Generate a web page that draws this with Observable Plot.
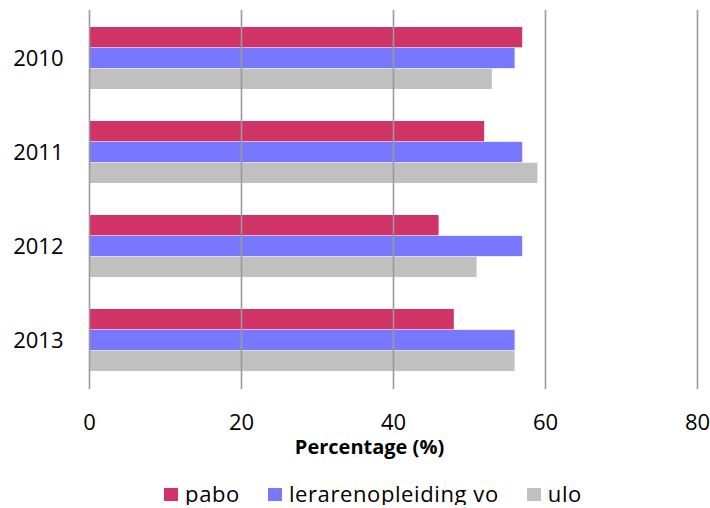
<!DOCTYPE html>
<html>
<head>
<meta charset="utf-8">
<script src="https://cdn.jsdelivr.net/npm/d3@7"></script>
<script src="https://cdn.jsdelivr.net/npm/@observablehq/plot@0.6"></script>
<style>
  body { margin: 0; background: #fff; font-family: "Open Sans", Lato, sans-serif; }
  #legend { display: flex; justify-content: center; gap: 28px; margin-top: 21px; margin-left: 36px; font-size: 22px; letter-spacing: 0.6px; color: #000; line-height: 24px; }
  #legend span.item { display: flex; align-items: center; gap: 7px; }
  #legend span.sw { display: inline-block; width: 14px; height: 13px; margin-top: 3px; }
</style>
</head>
<body>
<div id="chart"></div>
<div id="legend"></div>
<script>
const years = ["2010", "2011", "2012", "2013"];
const seriesNames = ["pabo", "lerarenopleiding vo", "ulo"];
const pabo = [57, 52, 46, 48];
const lerarenopleiding = [56, 57, 57, 56];
const ulo = [53, 59, 51, 56];
const xTicks = [0, 20, 40, 60, 80];
const colors = ["#d03467", "#7878ff", "#c0c0c0"];

const seriesValues = [pabo, lerarenopleiding, ulo];
const rows = seriesValues.map((vals, s) => years.map((y, i) => ({year: y, series: seriesNames[s], value: vals[i]})));

const width = 710, height = 460;
const marginTop = 10, marginBottom = 71, marginLeft = 89, marginRight = 13;
const paddingInner = 0.34, paddingOuter = 0.17;
const step = (height - marginTop - marginBottom) / (years.length - paddingInner + 2 * paddingOuter);
const bw = step * (1 - paddingInner);
const barH = bw / 3;

const barMarks = rows.map((data, s) => Plot.barX(data, {
  x: "value", y: "year", fill: colors[s],
  insetTop: s * barH, insetBottom: (2 - s) * barH
}));

const chart = Plot.plot({
  width, height, marginTop, marginBottom, marginLeft, marginRight,
  style: {fontFamily: "'Open Sans', Lato, sans-serif", fontSize: "22px", color: "#000", background: "#fff"},
  x: {domain: [0, 80], ticks: xTicks, tickSize: 0, tickPadding: 25, label: null},
  y: {domain: years, paddingInner, paddingOuter, tickSize: 0, tickPadding: 26, label: null},
  marks: [
    ...barMarks,
    Plot.ruleX(xTicks, {stroke: "#9a9a9a", strokeWidth: 1.6}),
    Plot.text(["Percentage (%)"], {frameAnchor: "bottom", dy: 64, dx: -24, fontWeight: "bold", fontSize: 20, fill: "#000"})
  ]
});
document.getElementById("chart").appendChild(chart);

const legend = document.getElementById("legend");
seriesNames.forEach((name, i) => {
  const item = document.createElement("span");
  item.className = "item";
  const sw = document.createElement("span");
  sw.className = "sw";
  sw.style.background = colors[i];
  item.appendChild(sw);
  item.appendChild(document.createTextNode(name));
  legend.appendChild(item);
});
</script>
</body>
</html>
